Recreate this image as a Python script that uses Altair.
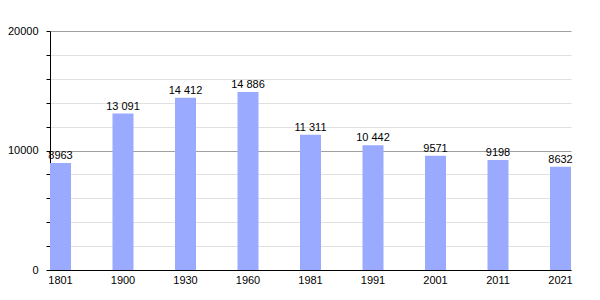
import altair as alt
import pandas as pd

years = ["1801", "1900", "1930", "1960", "1981", "1991", "2001", "2011", "2021"]
population = [8963, 13091, 14412, 14886, 11311, 10442, 9571, 9198, 8632]
labels = ["8963", "13 091", "14 412", "14 886", "11 311", "10 442", "9571", "9198", "8632"]

df = pd.DataFrame({"year": years, "pop": population, "label": labels})

x = alt.X("year:N", sort=years, title=None,
          scale=alt.Scale(paddingInner=0.664, paddingOuter=0),
          axis=alt.Axis(labelAngle=0, ticks=False, domainColor="black", labelColor="black",
                        labelFont="Liberation Sans", labelFontSize=11, labelPadding=4, grid=False))
y = alt.Y("pop:Q", title=None, scale=alt.Scale(domain=[0, 20000], nice=False),
          axis=alt.Axis(values=list(range(0, 20001, 2000)),
                        labelExpr="datum.value % 10000 === 0 ? datum.value : ''",
                        labelOverlap=False,
                        tickSize=4, tickColor="black", domainColor="black",
                        labelColor="black", labelFont="Liberation Sans", labelFontSize=11,
                        labelPadding=8,
                        gridColor={"condition": {"test": "datum.value % 10000 === 0", "value": "#a0a0a0"}, "value": "#e0e0e0"}))

base = alt.Chart(df).encode(x=x, y=y)
bars = base.mark_bar(color="#99aaff")
text = base.mark_text(dy=-7, font="Liberation Sans", fontSize=11, color="black").encode(text="label:N")

chart = (bars + text).properties(
    width=521, height=239,
    autosize=alt.AutoSizeParams(type="none"),
    padding={"left": 50, "top": 31, "right": 29, "bottom": 30},
).configure_view(stroke=None).configure_axis(domainWidth=1)

chart.save("out.html", embed_options={"renderer": "svg", "actions": False})
